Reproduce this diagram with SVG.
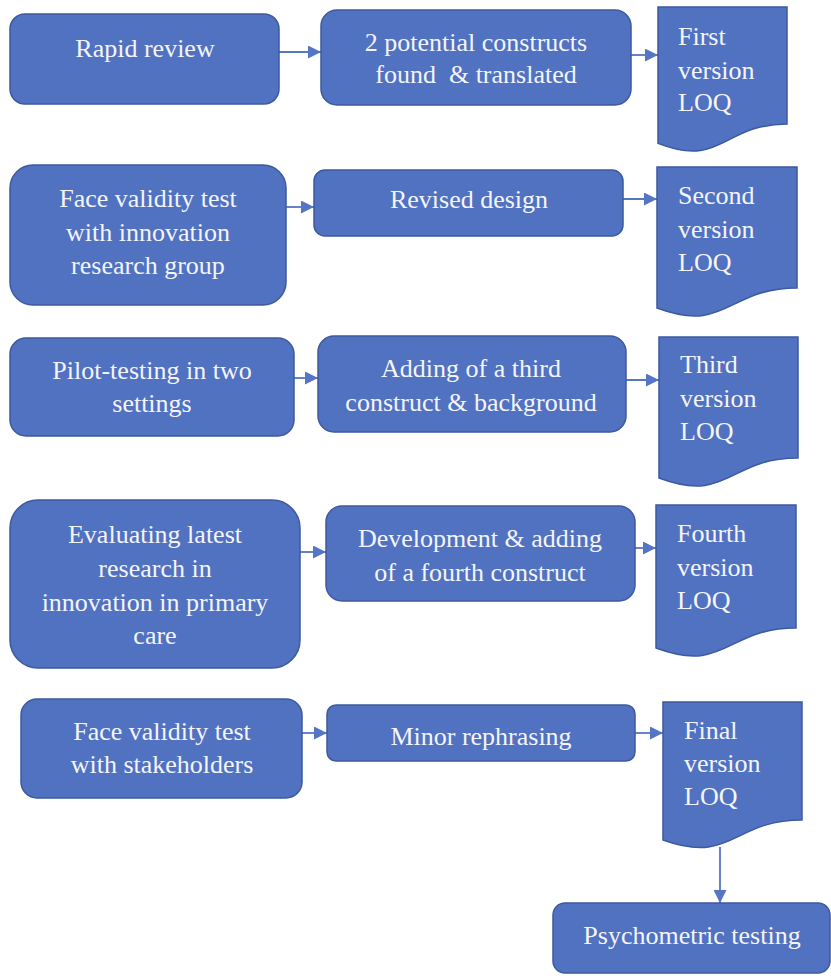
<svg xmlns="http://www.w3.org/2000/svg" width="831" height="976" viewBox="0 0 831 976">
<style>
.box{fill:#5171C1;stroke:#3C5A9E;stroke-width:1.5}
text{font-family:"Liberation Serif","Times New Roman","DejaVu Serif",serif;font-size:26px;fill:#F4F5FA}
.c{text-anchor:middle}
.ln{stroke:#5575C5;stroke-width:1.8;fill:none}
</style>
<defs>
<marker id="ah" viewBox="0 0 10 10" refX="10" refY="5" markerWidth="13" markerHeight="13" markerUnits="userSpaceOnUse" orient="auto">
<path d="M0,0 L10,5 L0,10 Z" fill="#5575C5"/>
</marker>
</defs>
<g id="connectors">
<line class="ln" x1="279" y1="52" x2="321" y2="52" marker-end="url(#ah)"/>
<line class="ln" x1="631" y1="55" x2="658" y2="55" marker-end="url(#ah)"/>
<line class="ln" x1="286" y1="207" x2="314" y2="207" marker-end="url(#ah)"/>
<line class="ln" x1="623" y1="199" x2="657" y2="199" marker-end="url(#ah)"/>
<line class="ln" x1="294" y1="378" x2="318" y2="378" marker-end="url(#ah)"/>
<line class="ln" x1="626" y1="380" x2="659" y2="380" marker-end="url(#ah)"/>
<line class="ln" x1="300" y1="552" x2="326" y2="552" marker-end="url(#ah)"/>
<line class="ln" x1="635" y1="548" x2="656" y2="548" marker-end="url(#ah)"/>
<line class="ln" x1="302" y1="733" x2="327" y2="733" marker-end="url(#ah)"/>
<line class="ln" x1="635" y1="733" x2="663" y2="733" marker-end="url(#ah)"/>
<line class="ln" x1="720" y1="847" x2="720" y2="903" marker-end="url(#ah)"/>
</g>
<g id="rapid-review">
<rect class="box" x="10" y="14" width="269" height="90" rx="15"/>
<text class="c" x="145" y="57">Rapid review</text>
</g>
<g id="potential-constructs">
<rect class="box" x="321" y="10" width="310" height="95" rx="16"/>
<text class="c" x="476" y="51">2 potential constructs</text>
<text class="c" x="476" y="83" xml:space="preserve">found  &amp; translated</text>
</g>
<g id="first-version">
<path class="box" d="M658,7 H787 V124 C722.5,124 722.5,168.6 658,143.4 Z"/>
<text x="678" y="45">First</text>
<text x="678" y="79">version</text>
<text x="678" y="111">LOQ</text>
</g>
<g id="face-validity-innovation">
<rect class="box" x="10" y="165" width="276" height="140" rx="23"/>
<text class="c" x="148" y="207">Face validity test</text>
<text class="c" x="148" y="241">with innovation</text>
<text class="c" x="148" y="274">research group</text>
</g>
<g id="revised-design">
<rect class="box" x="314" y="170" width="309" height="66" rx="11"/>
<text class="c" x="469" y="208">Revised design</text>
</g>
<g id="second-version">
<path class="box" d="M657,167 H797 V288 C727,288 727,334 657,308 Z"/>
<text x="678" y="204">Second</text>
<text x="678" y="238">version</text>
<text x="678" y="271">LOQ</text>
</g>
<g id="pilot-testing">
<rect class="box" x="10" y="338" width="284" height="98" rx="16"/>
<text class="c" x="152" y="379">Pilot-testing in two</text>
<text class="c" x="152" y="412">settings</text>
</g>
<g id="third-construct">
<rect class="box" x="318" y="336" width="308" height="96" rx="16"/>
<text class="c" x="471" y="377">Adding of a third</text>
<text class="c" x="471" y="411">construct &amp; background</text>
</g>
<g id="third-version">
<path class="box" d="M659,337 H798 V458 C728.5,458 728.5,504 659,478 Z"/>
<text x="680" y="373">Third</text>
<text x="680" y="407">version</text>
<text x="680" y="440">LOQ</text>
</g>
<g id="evaluating-research">
<rect class="box" x="10" y="500" width="290" height="168" rx="28"/>
<text class="c" x="155" y="543">Evaluating latest</text>
<text class="c" x="155" y="577">research in</text>
<text class="c" x="155" y="611">innovation in primary</text>
<text class="c" x="155" y="644">care</text>
</g>
<g id="fourth-construct">
<rect class="box" x="326" y="506" width="309" height="95" rx="16"/>
<text class="c" x="480" y="547">Development &amp; adding</text>
<text class="c" x="480" y="581">of a fourth construct</text>
</g>
<g id="fourth-version">
<path class="box" d="M656,505 H796 V628 C726,628 726,674 656,648 Z"/>
<text x="677" y="542">Fourth</text>
<text x="677" y="576">version</text>
<text x="677" y="609">LOQ</text>
</g>
<g id="face-validity-stakeholders">
<rect class="box" x="21" y="699" width="281" height="99" rx="16"/>
<text class="c" x="162" y="740">Face validity test</text>
<text class="c" x="162" y="773">with stakeholders</text>
</g>
<g id="minor-rephrasing">
<rect class="box" x="327" y="705" width="308" height="56" rx="9"/>
<text class="c" x="481" y="745">Minor rephrasing</text>
</g>
<g id="final-version">
<path class="box" d="M663,702 H802 V820 C732.5,820 732.5,865 663,840 Z"/>
<text x="684" y="739">Final</text>
<text x="684" y="772">version</text>
<text x="684" y="805">LOQ</text>
</g>
<g id="psychometric-testing">
<rect class="box" x="553" y="903" width="277" height="70" rx="12"/>
<text class="c" x="692" y="944">Psychometric testing</text>
</g>
</svg>
